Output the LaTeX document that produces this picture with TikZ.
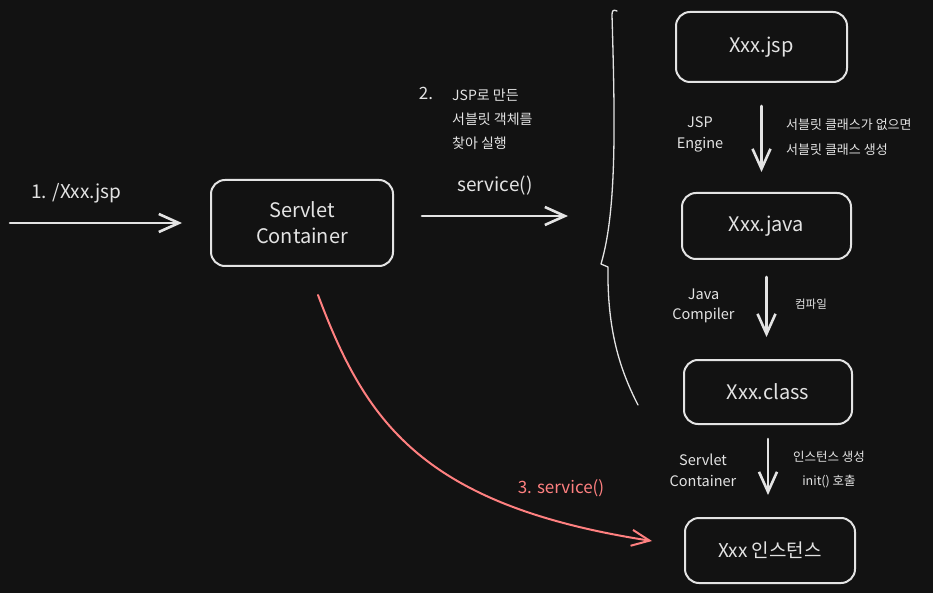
\documentclass[tikz,border=0pt]{standalone}
\usepackage{fontspec}
\setmainfont{Noto Sans CJK KR}
\usetikzlibrary{arrows.meta}
\definecolor{bg}{HTML}{121212}
\definecolor{fg}{HTML}{E3E3E3}
\definecolor{redc}{HTML}{FF8080}
\tikzset{
  box/.style={draw=fg, line width=2pt, rounded corners=14pt, inner sep=0pt, text=fg,
    align=center, font=\fontsize{20}{26}\selectfont},
  arr/.style={draw=fg, line width=2.6pt, line cap=round,
    -{Straight Barb[length=20pt,width=18pt]}},
  redarr/.style={draw=redc, line width=2pt, line cap=round,
    -{Straight Barb[length=18pt,width=16pt]}},
  lbl/.style={text=fg, inner sep=0pt, align=center},
}
\begin{document}
\begin{tikzpicture}[x=1pt,y=-1pt]
\fill[bg] (0,0) rectangle (933,593);
\useasboundingbox (0,0) rectangle (933,593);

% boxes
\node[box, minimum width=182pt, minimum height=86pt] (sc) at (302,223) {Servlet\\Container};
\node[box, minimum width=171pt, minimum height=70pt] (jsp) at (761.5,47) {Xxx.jsp};
\node[box, minimum width=169pt, minimum height=66pt] (java) at (766.5,226) {Xxx.java};
\node[box, minimum width=168pt, minimum height=64pt] (cls) at (768,392) {Xxx.class};
\node[box, minimum width=170pt, minimum height=65pt, font=\fontsize{19}{24}\selectfont] (inst) at (770,550.5) {Xxx 인스턴스};

% free ends
\coordinate (a1s) at (10,223);
\coordinate (a2s) at (422,216);
\coordinate (a2e) at (568,216);
\coordinate (rs) at (318,295);
\coordinate (re) at (652,541);

% arrows
\draw[arr, shorten >=28pt] (a1s) -- (sc.west);
\draw[arr] (a2s) -- (a2e);
\draw[arr, shorten <=23pt, shorten >=20pt] (jsp.south) -- (jsp.south|-java.north);
\draw[arr, shorten <=17pt, shorten >=22pt] (java.south) -- (java.south|-cls.north);
\draw[arr, shorten <=14pt, shorten >=22pt] (cls.south) -- (cls.south|-inst.north);
\draw[redarr] (rs) .. controls (365,420) and (420,505) .. (re);

% brace
\draw[fg, line width=1.3pt, line cap=round, line join=round]
  (617,11) .. controls (613,9) and (612,11) .. (612,15)
  .. controls (615,120) and (617,210) .. (601,264)
  -- (608,267)
  .. controls (607,330) and (620,370) .. (638,405);

% labels
\node[lbl, anchor=west, font=\fontsize{19}{24}\selectfont] (l1) at (31,193) {1. /Xxx.jsp};
\node[lbl, font=\fontsize{17}{20}\selectfont] (l2n) at (426,93) {2.};
\node[lbl, anchor=west, align=left, font=\fontsize{14}{24}\selectfont] (l2) at (452,119) {JSP로 만든\\서블릿 객체를\\찾아 실행};
\node[lbl, font=\fontsize{19}{24}\selectfont] (svc) at (495,186) {service()};
\node[lbl, font=\fontsize{14.5}{21}\selectfont] (eng) at (700,134.5) {JSP\\Engine};
\node[lbl, anchor=west, align=left, font=\fontsize{13}{25}\selectfont] (n1) at (786,137.5) {서블릿 클래스가 없으면\\서블릿 클래스 생성};
\node[lbl, font=\fontsize{14.5}{20}\selectfont] (jc) at (703.5,306) {Java\\Compiler};
\node[lbl, font=\fontsize{11.5}{14}\selectfont] (cmp) at (811,304) {컴파일};
\node[lbl, font=\fontsize{14.5}{21}\selectfont] (sc2) at (703,470.5) {Servlet\\Container};
\node[lbl, font=\fontsize{12.5}{24}\selectfont] (n3) at (829,470) {인스턴스 생성\\init() 호출};
\node[lbl, text=redc, font=\fontsize{17}{20}\selectfont] (l3) at (561,488) {3. service()};
\end{tikzpicture}
\end{document}
